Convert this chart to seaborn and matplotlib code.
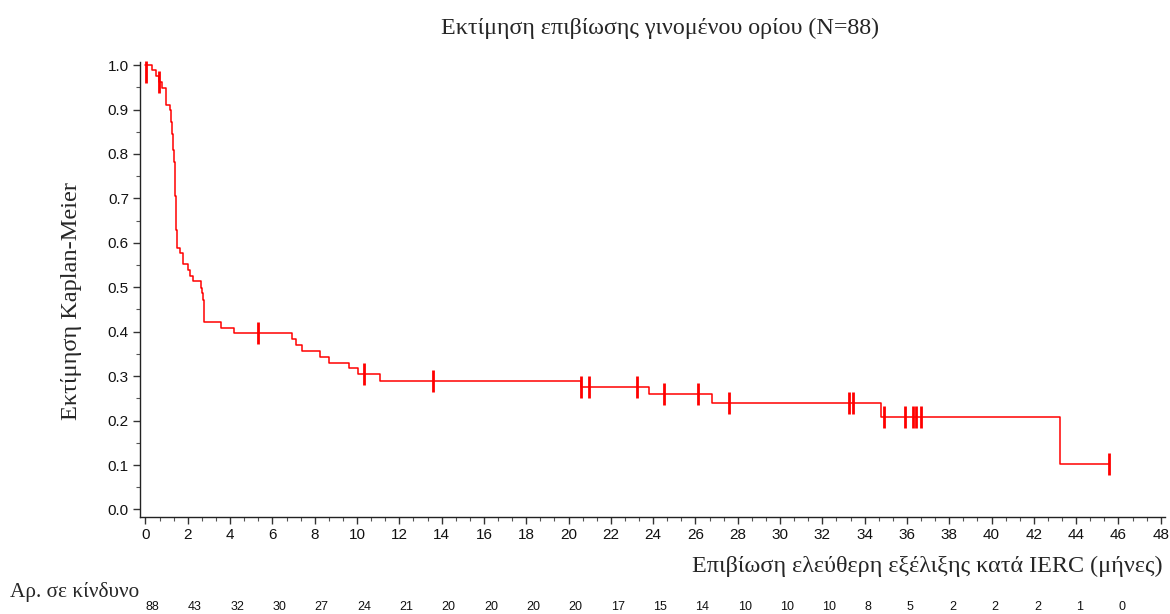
import numpy as np
import pandas as pd
import matplotlib
matplotlib.use("Agg")
import matplotlib.pyplot as plt
from matplotlib.ticker import MultipleLocator, FormatStrFormatter
import matplotlib.transforms as mtransforms
import seaborn as sns

# ---- data ----
step_times = [0, 0.29, 0.50, 0.65, 0.77, 0.97,
              1.14, 1.19, 1.27, 1.30, 1.32, 1.35, 1.39, 1.44, 1.47, 1.50,
              1.63, 1.76, 2.02, 2.10, 2.23, 2.61, 2.67, 2.70, 2.76, 2.78,
              3.57, 4.20, 6.91, 7.10, 7.41, 8.25, 8.67, 9.63, 10.03, 11.08,
              20.61, 23.81, 26.79, 34.76, 43.22, 45.55]
survival = [1.0, 0.989, 0.975, 0.962, 0.948, 0.911,
            0.899, 0.872, 0.846, 0.820, 0.809, 0.782, 0.706, 0.628, 0.602, 0.589,
            0.577, 0.553, 0.538, 0.525, 0.514, 0.499, 0.486, 0.471, 0.437, 0.422,
            0.409, 0.396, 0.383, 0.371, 0.357, 0.343, 0.330, 0.318, 0.305, 0.290,
            0.275, 0.259, 0.239, 0.208, 0.103, 0.103]

censor_times = [0.02, 0.65, 5.32, 10.33, 13.57, 20.61, 20.96, 23.26, 24.52, 26.10,
                27.59, 33.26, 33.47, 34.90, 35.90, 36.29, 36.45, 36.65, 45.55]
censor_surv = [0.985, 0.962, 0.396, 0.305, 0.290, 0.275, 0.275, 0.275, 0.259, 0.259,
               0.239, 0.239, 0.239, 0.208, 0.208, 0.208, 0.208, 0.208, 0.103]

risk_times = list(range(0, 48, 2))
at_risk = [88, 43, 32, 30, 27, 24, 21, 20, 20, 20, 20, 17, 15, 14, 10, 10, 10, 8, 5, 2, 2, 2, 1, 0]

title = "Εκτίμηση επιβίωσης γινομένου ορίου (N=88)"
xlabel = "Επιβίωση ελεύθερη εξέλιξης κατά IERC (μήνες)"
ylabel = "Εκτίμηση Kaplan-Meier"
risk_label = "Αρ. σε κίνδυνο"

# ---- style ----
sns.set_theme(style="ticks")
plt.rcParams['font.family'] = ['Liberation Sans', 'DejaVu Sans']
serif = ['Liberation Serif', 'DejaVu Serif']

W, H = 1170, 614
fig = plt.figure(figsize=(W / 100, H / 100), dpi=100)
ax = fig.add_axes([140 / W, 1 - 517 / H, (1165 - 140) / W, (517 - 62) / H])

sns.lineplot(x=step_times, y=survival, drawstyle='steps-post', color='red',
             lw=1.1, estimator=None, sort=False, ax=ax)
sns.scatterplot(x=censor_times, y=censor_surv, marker='|', s=250, color='red',
                linewidth=2.0, ax=ax, zorder=3, clip_on=False)

ax.set_xlim(-0.26, 48.2)
ax.set_ylim(-0.017, 1.007)
ax.xaxis.set_major_locator(MultipleLocator(2))
ax.xaxis.set_minor_locator(MultipleLocator(2 / 3))
ax.yaxis.set_major_locator(MultipleLocator(0.1))
ax.yaxis.set_minor_locator(MultipleLocator(0.05))
ax.yaxis.set_major_formatter(FormatStrFormatter('%.1f'))
ax.set_xlabel("")
ax.set_ylabel("")
sns.despine(ax=ax)
for s in ['left', 'bottom']:
    ax.spines[s].set_linewidth(1.0)
    ax.spines[s].set_color('#222222')
ax.tick_params(which='major', length=5, width=1, color='#333333', labelsize=11,
               labelcolor='#111111', pad=3)
ax.tick_params(which='minor', length=3, width=0.8, color='#555555')

fig.text(660 / W, 1 - 28 / H, title, ha='center', va='center', family=serif, size=17.3)
fig.text(1163 / W, 1 - 566 / H, xlabel, ha='right', va='center', family=serif, size=17.4)
fig.text(72 / W, 1 - 301 / H, ylabel, ha='center', va='center', rotation=90,
         family=serif, size=17.6)
fig.text(10 / W, 1 - 592 / H, risk_label, ha='left', va='center', family=serif, size=15.3)

trans = mtransforms.blended_transform_factory(ax.transData, fig.transFigure)
for t, n in zip(risk_times, at_risk):
    ax.text(t, 1 - 607 / H, str(n), transform=trans, ha='left', va='center',
            size=9, color='#111111')

fig.savefig("out.png", dpi=100)
